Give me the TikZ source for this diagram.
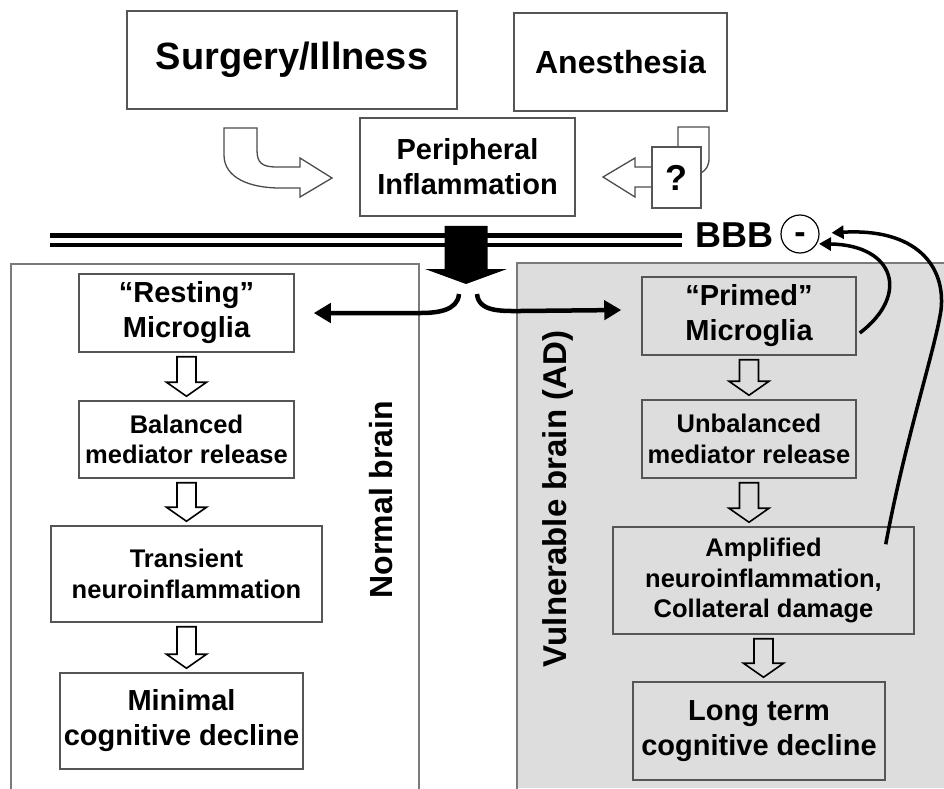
\documentclass[tikz,border=0pt]{standalone}
\usepackage{fontspec}
\setmainfont{Liberation Sans}
\usepackage{tikz}
\usetikzlibrary{arrows.meta}
\usetikzlibrary{calc,positioning}

\definecolor{boxline}{HTML}{555555}
\definecolor{panelgray}{HTML}{DDDDDD}
\definecolor{panelline}{HTML}{7A7A7A}

\tikzset{
	stagebox/.style={draw=boxline, line width=1.5pt, align=center, inner sep=0pt, font=\bfseries\fontsize{29}{35}\selectfont},
	medtext/.style={font=\bfseries\fontsize{25.5}{30.5}\selectfont},
	blockarrow/.style={draw=black, line width=1.6pt},
	outlinearrow/.style={draw=black!70, line width=1.3pt, fill=white},
	splitarrow/.style={line width=4.5pt, -{Triangle[length=17pt,width=19pt]}},
	feedback/.style={line width=3.5pt, shorten >=2pt, -{Triangle[length=12pt,width=13pt]}}
}

\newcommand{\blockdown}[2]{%
	\draw[blockarrow] let \p1=($(#1.south)+(0,4)$), \p2=($(#2.north)+(0,-4)$) in
		(\x1-9.5pt,\y1) -- (\x1+9.5pt,\y1) -- (\x1+9.5pt,\y2+14pt) -- (\x1+20pt,\y2+14pt) --
		(\x1,\y2) -- (\x1-20pt,\y2+14pt) -- (\x1-9.5pt,\y2+14pt) -- cycle;}

\begin{document}
\begin{tikzpicture}[x=1pt, y=-1pt]
		\useasboundingbox (0,0) rectangle (944,788);
		
		\fill[panelgray] (517,263) rectangle (944,788);
		\draw[panelline, line width=1.3pt] (517,790) -- (517,263) -- (946,263);
		\draw[panelline, line width=1.3pt] (11,790) -- (11,264) -- (419,264) -- (419,790);
		
		\node[stagebox, minimum width=330, minimum height=98, font=\bfseries\fontsize{38}{44}\selectfont] (surg) at (292,60) {Surgery/Illness};
		\node[stagebox, minimum width=213, minimum height=98, font=\bfseries\fontsize{32}{38}\selectfont] (anest) at (620.5,62) {Anesthesia};
		\node[stagebox, minimum width=215, minimum height=98] (periph) at (467.5,167) {Peripheral\\Inflammation};
		
		\draw[outlinearrow] (224,128) -- (257,128) -- (257,150) .. controls (257,163) and (262,167) .. (277,167) -- (300,167) -- (300,158) --
			(332,178) -- (300,197) -- (300,188) -- (280,188) .. controls (250,188) and (224,178) .. (224,155) -- cycle;
		\draw[draw=black!70, line width=1.3pt] (678,147) -- (678,127) -- (709,127) -- (709,158) .. controls (709,166) and (706,170) .. (701,173);
		\draw[outlinearrow] (652,167) -- (635,167) -- (635,158) -- (603,177) -- (635,197) -- (635,187) -- (652,187);
		\node[stagebox, fill=white, line width=1.3pt, minimum width=49, minimum height=61, font=\bfseries\fontsize{36}{40}\selectfont] (quest) at (676.5,177.5) {?};
		
		\node[anchor=west, inner sep=0pt, font=\bfseries\fontsize{36}{40}\selectfont] (bbb) at (695,235.5) {BBB};
		\node[draw, circle, line width=1.2pt, minimum size=38, inner sep=0pt, font=\bfseries\fontsize{34}{38}\selectfont] (minus) at (800,234) {\raisebox{-9pt}[0pt][0pt]{-}};
		\coordinate (bbbL) at (50,235.5);
		\draw[line width=4.5pt] (bbbL) -- ($(bbb.west)+(-13,0)$);
		\draw[line width=4.5pt] ($(bbbL)+(0,9.5)$) -- ($(bbb.west)+(-13,9.5)$);
		
		\coordinate (split) at (466,284);
		\fill let \p1=($(periph.south)+(0,9)$), \p2=(split) in (\x2-21.5pt,\y1) -- (\x2+21.5pt,\y1) -- (\x2+21.5pt,\y2+15pt) --
			(\x2+41pt,\y2+15pt) -- (\x2,\y2) -- (\x2-41pt,\y2+15pt) -- (\x2-21.5pt,\y2+15pt) -- cycle;
		
		\node[stagebox, minimum width=215, minimum height=78] (rest) at (186.5,313) {“Resting”\\Microglia};
		\node[stagebox, medtext, minimum width=215, minimum height=77] (bal) at (186.5,439.5) {Balanced\\mediator release};
		\node[stagebox, medtext, minimum width=271, minimum height=96] (trans) at (186.5,574) {Transient\\neuroinflammation};
		\node[stagebox, minimum width=243, minimum height=96] (mini) at (181.5,721) {Minimal\\cognitive decline};
		
		\node[stagebox, minimum width=214, minimum height=78] (prim) at (749,316) {“Primed”\\Microglia};
		\node[stagebox, medtext, minimum width=214, minimum height=78] (unbal) at (749,439) {Unbalanced\\mediator release};
		\node[stagebox, medtext, minimum width=301, minimum height=107] (ampl) at (763.5,580.5) {Amplified\\neuroinflammation,\\Collateral damage};
		\node[stagebox, minimum width=252, minimum height=98] (longt) at (759,731) {Long term\\cognitive decline};
		
		\node[rotate=90, font=\bfseries\fontsize{32}{36}\selectfont] (normal) at (381,499.5) {Normal brain};
		\node[rotate=90, font=\bfseries\fontsize{33}{36}\selectfont] (vuln) at (558,499) {Vulnerable brain (AD)};
		
		\blockdown{rest}{bal} \blockdown{bal}{trans} \blockdown{trans}{mini}
		\blockdown{prim}{unbal} \blockdown{unbal}{ampl} \blockdown{ampl}{longt}
		
		\draw[splitarrow] ($(split)+(-7,10)$) to[out=-95,in=0] ($(split)+(-46,29)$) -- ($(rest.east)+(19,0)$);
		\draw[splitarrow] ($(split)+(11,10)$) to[out=-85,in=180] ($(split)+(54,27)$) -- ($(prim.west)+(-20,-6)$);
		
		\draw[feedback] ($(prim.east)+(3,17)$) .. controls (910,295) and (895,245) .. (minus.-30);
		\draw[feedback] ($(ampl.north east)+(-29,18)$) .. controls (905,440) and (935,350) .. (941,310)
			.. controls (946,265) and (915,228) .. ($(minus.east)+(10,-1)$);
\end{tikzpicture}
\end{document}
